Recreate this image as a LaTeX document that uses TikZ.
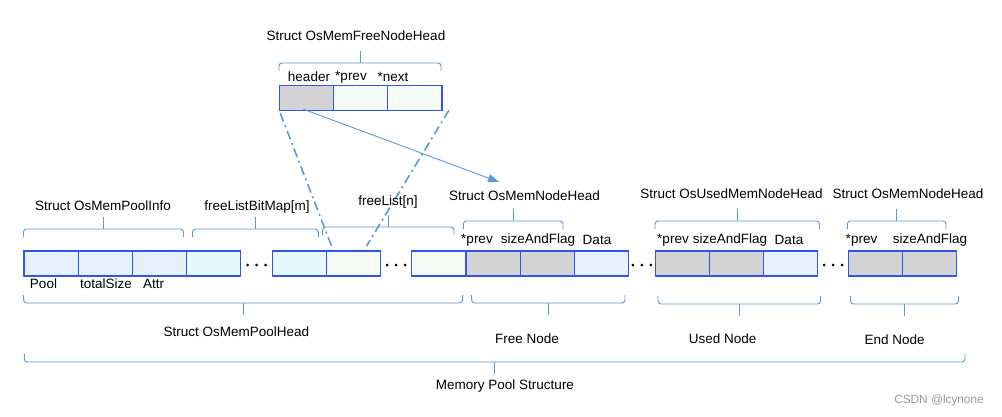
\documentclass[tikz,border=0pt]{standalone}
\usepackage{fontspec}
\setmainfont{Liberation Sans}
\usetikzlibrary{
  positioning,
  arrows.meta,
  calc
}
\definecolor{cellblue}{HTML}{2F55EE}
\definecolor{linkblue}{HTML}{5B9BD5}
\definecolor{poolfill}{HTML}{E6F1FB}
\definecolor{bitfill}{HTML}{E5F8FB}
\definecolor{listfill}{HTML}{F6FAF4}
\definecolor{hdrgray}{HTML}{D3D3D3}
\tikzset{
  cell/.style={
    draw=cellblue,
    line width=1.2pt,
    minimum width=54.2pt,
    minimum height=25pt,
    inner sep=0pt,
    outer sep=0pt
  },
  lbl/.style={
    font=\fontsize{13.5}{16}\selectfont,
    inner sep=0pt
  },
  brc/.style={
    draw=linkblue,
    line width=0.95pt,
    rounded corners=3pt
  },
  dashdot/.style={
    draw=linkblue,
    line width=1.6pt,
    dash pattern=on 9pt off 4pt on 2pt off 4pt
  }
}
% ends at (#1,#3) and (#2,#3), #4 = -1 opens up, 1 opens down
\newcommand{\capbrace}[4]{%
  \draw[brc] (#1,#3) |- ({(#1+#2)/2},{#3+8*#4}) -| (#2,#3);
  \draw[brc] ({(#1+#2)/2},{#3+8*#4}) -- ++(0,{12*#4});}

\begin{document}
\begin{tikzpicture}[x=1pt,y=-1pt]
  \useasboundingbox (0,0) rectangle (1002,417);

  % pool head
  \node[cell, fill=poolfill] (pool) at (51.1,263.5) {};
  \node[cell, fill=poolfill, right=0pt of pool] (total) {};
  \node[cell, fill=poolfill, right=0pt of total] (attr) {};
  \node[cell, fill=bitfill, right=0pt of attr] (bit1) {};
  \node[cell, fill=bitfill, anchor=west] (bit2) at (272.3,263.5) {};
  \node[cell, fill=listfill, right=0pt of bit2] (list1) {};
  \node[cell, fill=listfill, anchor=west] (list2) at (411.7,263.5) {};
  % free node
  \node[cell, fill=hdrgray, right=0pt of list2] (fprev) {};
  \node[cell, fill=hdrgray, right=0pt of fprev] (fsize) {};
  \node[cell, fill=poolfill, right=0pt of fsize] (fdata) {};
  % used node
  \node[cell, fill=hdrgray, anchor=west] (uprev) at (655.2,263.5) {};
  \node[cell, fill=hdrgray, right=0pt of uprev] (usize) {};
  \node[cell, fill=poolfill, right=0pt of usize] (udata) {};
  % end node
  \node[cell, fill=hdrgray, anchor=west] (eprev) at (848.4,263.5) {};
  \node[cell, fill=hdrgray, right=0pt of eprev] (esize) {};
  % free node head
  \node[cell, fill=hdrgray, anchor=west] (hdr) at (279.3,97.7) {};
  \node[cell, fill=listfill, right=0pt of hdr] (tprev) {};
  \node[cell, fill=listfill, right=0pt of tprev] (tnext) {};

  % gaps
  \coordinate (gap1) at ($(bit1.east)!.5!(bit2.west)$);
  \coordinate (gap2) at ($(list1.east)!.5!(list2.west)$);
  \coordinate (gap3) at ($(fdata.east)!.5!(uprev.west)$);
  \coordinate (gap4) at ($(udata.east)!.5!(eprev.west)$);
  \foreach \g in {gap1,gap2,gap3,gap4}
    \foreach \dx in {-9,0,9}
      \fill ([shift={(\dx,1.5)}]\g) circle (1.5pt);

  % links
  \coordinate (lefttip) at ([shift={(5,-5)}]list1.north west);
  \coordinate (righttip) at ([shift={(13,-5)}]list1.north);
  \coordinate (fhptr) at (499,182);
  \draw[dashdot] ([shift={(1,3)}]hdr.south west) -- (lefttip);
  \draw[dashdot] ([xshift=7pt]tnext.south east) -- (righttip);
  \draw[linkblue, line width=0.9pt, -{Triangle[length=11pt,width=8pt]}]
    ([shift={(-3,-1)}]hdr.south) -- (fhptr);

  % braces
  \capbrace{279}{441}{71}{-1}
  \capbrace{23.5}{183.5}{237}{-1}
  \capbrace{192.7}{318.3}{237}{-1}
  \capbrace{322.7}{454}{235}{-1}
  \capbrace{463.4}{563}{229}{-1}
  \capbrace{655}{819.5}{229}{-1}
  \capbrace{847.4}{946}{229}{-1}
  \capbrace{23.6}{462.6}{295}{1}
  \capbrace{471.6}{625}{295}{1}
  \capbrace{658}{820.5}{296}{1}
  \capbrace{850.5}{958.5}{296}{1}
  \capbrace{24.3}{965}{354}{1}

  % labels
  \node[lbl] (fnhead) at (356,36) {Struct OsMemFreeNodeHead};
  \node[lbl] (thdr) at (309,77) {header};
  \node[lbl] (tprevl) at (351,77) {*prev};
  \node[lbl] (tnextl) at (393,77) {*next};
  \node[lbl] (infol) at (103,206) {Struct OsMemPoolInfo};
  \node[lbl] (bitl) at (257,207) {freeListBitMap[m]};
  \node[lbl] (listl) at (388,202) {freeList[n]};
  \node[lbl] (fheadl) at (524.5,196) {Struct OsMemNodeHead};
  \node[lbl] (uheadl) at (731.5,194) {Struct OsUsedMemNodeHead};
  \node[lbl] (eheadl) at (908,194) {Struct OsMemNodeHead};
  \node[lbl] (poolf) at (43.5,284) {Pool};
  \node[lbl] (totalf) at (106,284) {totalSize};
  \node[lbl] (attrf) at (153.5,284) {Attr};
  \node[lbl] (fprevf) at (477,240) {*prev};
  \node[lbl] (fsizef) at (538,240) {sizeAndFlag};
  \node[lbl] (fdataf) at (597,240) {Data};
  \node[lbl] (uprevf) at (673,240) {*prev};
  \node[lbl] (usizef) at (730,240) {sizeAndFlag};
  \node[lbl] (udataf) at (789,240) {Data};
  \node[lbl] (eprevf) at (861.5,240) {*prev};
  \node[lbl] (esizef) at (930,240) {sizeAndFlag};
  \node[lbl] (pheadl) at (236.4,332) {Struct OsMemPoolHead};
  \node[lbl] (freel) at (527,339) {Free Node};
  \node[lbl] (usedl) at (722.7,339) {Used Node};
  \node[lbl] (endl) at (894.6,340) {End Node};
  \node[lbl] (meml) at (505,386) {Memory Pool Structure};
  \node[lbl, font=\fontsize{11.8}{14}\selectfont, text=gray!80] (mark) at (939,400) {CSDN @lcynone};
\end{tikzpicture}
\end{document}
